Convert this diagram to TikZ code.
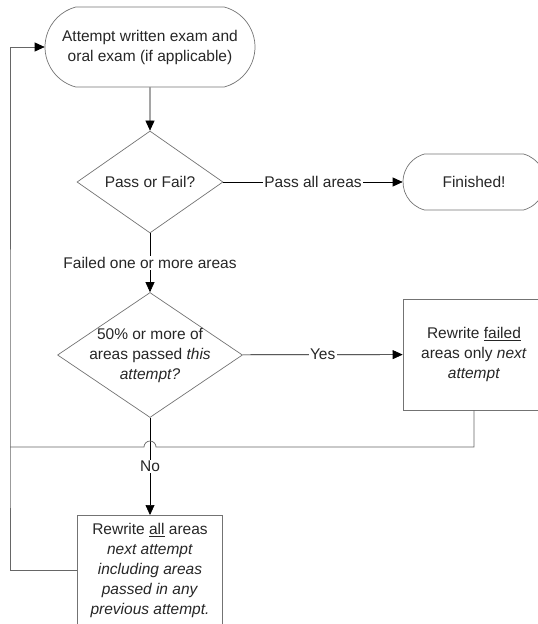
\documentclass[tikz,border=0pt]{standalone}
\usepackage{fontspec}
\setmainfont{Liberation Sans}
\usetikzlibrary{shapes.geometric,shapes.misc,arrows.meta}

\begin{document}
\begin{tikzpicture}[x=1pt,y=-1pt,
    font=\fontsize{15.5}{20}\selectfont,
    line width=0.7pt,
    >={Triangle[length=10pt,width=9pt,color=black]},
    every node/.style={text=black!85},
    terminal/.style={draw=black!55, rounded rectangle, rounded rectangle arc length=150, align=center, inner sep=0pt},
    decision/.style={draw=black!55, diamond, inner sep=0pt},
    process/.style={draw=black!55, rectangle, align=center},
    lbl/.style={fill=white, inner sep=1.5pt},
    loopline/.style={draw=black!60}]
    \clip (0,0) rectangle (538,624);

    \node (start) at (150,47) [terminal, minimum width=210, minimum height=80] {Attempt written exam and\\oral exam (if applicable)};
    \node (pf) at (150,182) [decision, minimum width=146, minimum height=102, label={[name=pftxt]center:Pass or Fail?}] {};
    \node (done) at (474,182) [terminal, minimum width=142, minimum height=56] {Finished!};
    \node (half) at (150,355) [decision, minimum width=185, minimum height=125, label={[name=halftxt, align=center]center:50\% or more of\\areas passed \textit{this}\\\textit{attempt?}}] {};
    \node (partial) at (474,354.5) [process, minimum width=142, minimum height=111] {Rewrite \underline{failed}\\areas only \textit{next}\\\textit{attempt}};
    \node (full) at (150,515) [process, anchor=north, minimum width=145, inner xsep=6pt, inner ysep=8pt] {Rewrite \underline{all} areas\\\textit{next attempt}\\\textit{including areas}\\\textit{passed in any}\\\textit{previous attempt.}};
    \coordinate (joint) at (10,447);

    \draw[->] (start) -- (pf);
    \draw[->] (pf) -- node[lbl] (passlbl) {Pass all areas} (done);
    \draw[->] (pf) -- node[lbl] (faillbl) {Failed one or more areas} (half);
    \draw[->] (half) -- node[lbl] (yeslbl) {Yes} (partial);
    \draw[->] (half) -- node[lbl] (nolbl) {No} (full);

    % way back to the start
    \draw[loopline] (partial.south) -- (partial.south |- joint) -- ([xshift=6pt]half.south |- joint) arc[start angle=0, end angle=180, radius=6pt] -- (joint);
    \draw[loopline, ->] (full.west) -- (full.west -| joint) -- (joint) -- (start.west -| joint) -- (start.west);
\end{tikzpicture}
\end{document}
